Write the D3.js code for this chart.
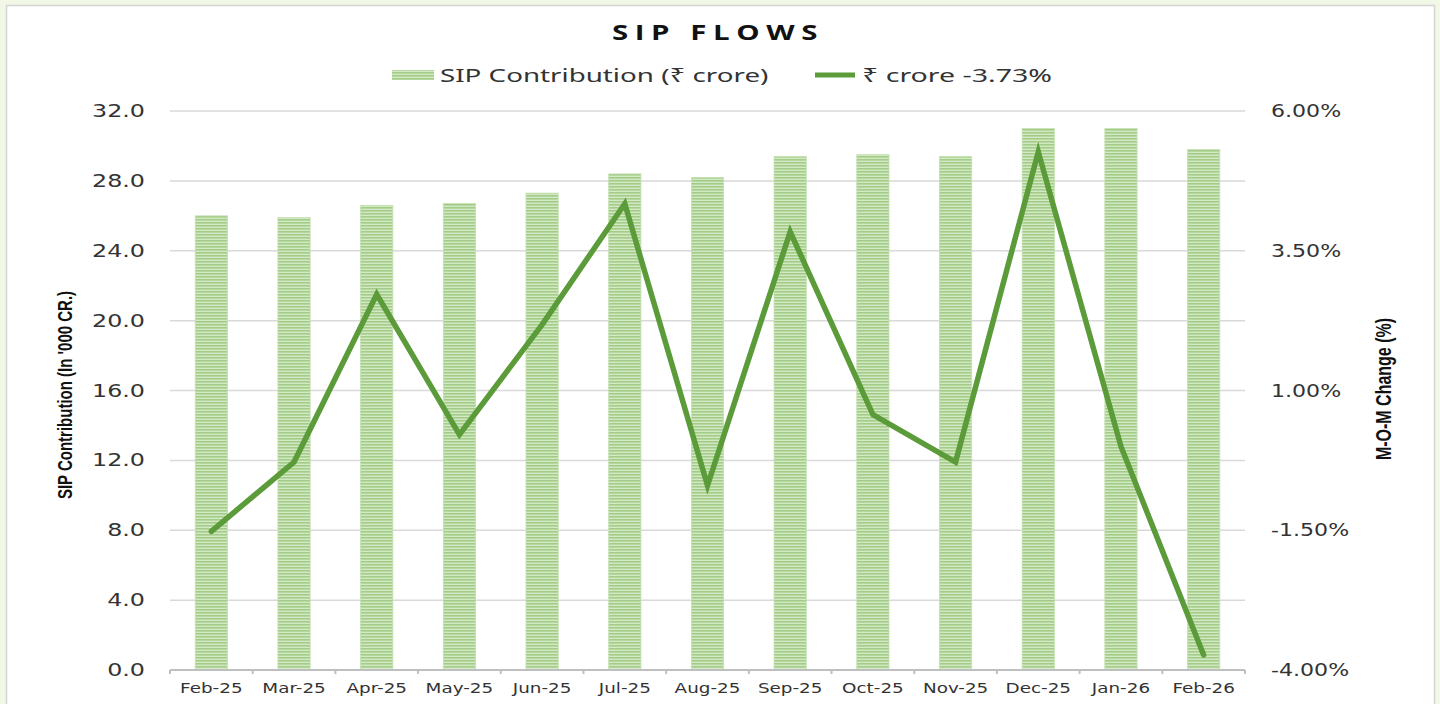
<!DOCTYPE html>
<html>
<head>
<meta charset="utf-8">
<script src="https://cdn.jsdelivr.net/npm/d3@7"></script>
<style>
  html, body { margin: 0; padding: 0; background: #f1f8e6; }
  svg { display: block; }
</style>
</head>
<body>
<div id="viz"></div>
<script>
// chart data
const months = ["Feb-25", "Mar-25", "Apr-25", "May-25", "Jun-25", "Jul-25", "Aug-25",
                "Sep-25", "Oct-25", "Nov-25", "Dec-25", "Jan-26", "Feb-26"]
const sipContribution = [26.0, 25.9, 26.6, 26.7, 27.3, 28.4, 28.2, 29.4, 29.5, 29.4, 31.0, 31.0, 29.8]
const momChange = [-1.52, -0.28, 2.72, 0.21, 2.18, 4.34, -0.70, 3.84, 0.57, -0.28, 5.27, 0.0, -3.73]
const leftTicks = [0, 4, 8, 12, 16, 20, 24, 28, 32]
const rightTicks = [-4, -1.5, 1, 3.5, 6]

const width = 1440, height = 704
const plotLeft = 170, plotRight = 1245, plotTop = 111, plotBottom = 670

let svg = d3.select("#viz").append("svg").attr("width", width).attr("height", height)

// white card with grey border
svg.append("rect")
    .attr("x", 6.5).attr("y", 5.5)
    .attr("width", 1428).attr("height", 720)
    .attr("fill", "#fff").attr("stroke", "#d4d4d4").attr("stroke-width", 1.5)

// stripe pattern for the bars
let defs = svg.append("defs")
let pat = defs.append("pattern")
    .attr("id", "stripes").attr("patternUnits", "userSpaceOnUse")
    .attr("width", 8).attr("height", 3)
pat.append("rect").attr("width", 8).attr("height", 3).attr("fill", "#d3e8c4")
pat.append("rect").attr("width", 8).attr("height", 1.6).attr("fill", "#a3cd87")

let x = d3.scaleBand().domain(months).range([plotLeft, plotRight]).paddingInner(0.61).paddingOuter(0.305)
let yL = d3.scaleLinear().domain([0, 32]).range([plotBottom, plotTop])
let yR = d3.scaleLinear().domain([-4, 6]).range([plotBottom, plotTop])

// the source picture is stretched sideways, so text gets a horizontal scale
const stretch = 1.4

// gridlines
svg.append("g")
    .selectAll("line").data(leftTicks.filter(d => d > 0))
    .join("line")
    .attr("x1", plotLeft).attr("x2", plotRight)
    .attr("y1", d => yL(d)).attr("y2", d => yL(d))
    .attr("stroke", "#d9d9d9").attr("stroke-width", 1.5)

// bars
svg.append("g")
    .selectAll("rect").data(sipContribution)
    .join("rect")
    .attr("x", (d, i) => x(months[i]))
    .attr("y", d => yL(d))
    .attr("width", x.bandwidth())
    .attr("height", d => plotBottom - yL(d))
    .attr("fill", "url(#stripes)")
    .attr("stroke", "#c4e0b0").attr("stroke-width", 0.8)

// x axis line and ticks
let step = x.step()
svg.append("line")
    .attr("x1", plotLeft).attr("x2", plotRight).attr("y1", plotBottom).attr("y2", plotBottom)
    .attr("stroke", "#bfbfbf").attr("stroke-width", 2)
svg.append("g")
    .selectAll("line").data(d3.range(months.length + 1))
    .join("line")
    .attr("x1", i => plotLeft + i * step).attr("x2", i => plotLeft + i * step)
    .attr("y1", plotBottom).attr("y2", plotBottom + 4)
    .attr("stroke", "#bfbfbf").attr("stroke-width", 2)

svg.append("g")
    .selectAll("text").data(months)
    .join("text")
    .attr("transform", d => `translate(${x(d) + x.bandwidth() / 2},693) scale(1.36,1)`)
    .attr("text-anchor", "middle")
    .attr("font-family", "DejaVu Sans, Verdana, sans-serif")
    .attr("font-size", 13.5)
    .attr("fill", "#333")
    .text(d => d)

// left tick labels
svg.append("g")
    .selectAll("text").data(leftTicks)
    .join("text")
    .attr("transform", d => `translate(145,${yL(d) + 6}) scale(${stretch},1)`)
    .attr("text-anchor", "end")
    .attr("font-family", "DejaVu Sans, Verdana, sans-serif")
    .attr("font-size", 17)
    .attr("fill", "#333")
    .text(d => d3.format(".1f")(d))

// right tick labels
svg.append("g")
    .selectAll("text").data(rightTicks)
    .join("text")
    .attr("transform", d => `translate(1271,${yR(d) + 6}) scale(1.3,1)`)
    .attr("text-anchor", "start")
    .attr("font-family", "DejaVu Sans, Verdana, sans-serif")
    .attr("font-size", 17)
    .attr("fill", "#333")
    .text(d => d3.format(".2f")(d).replace("−", "-") + "%")

// line
let line = d3.line()
    .x((d, i) => x(months[i]) + x.bandwidth() / 2)
    .y(d => yR(d))
svg.append("path")
    .datum(momChange)
    .attr("d", line)
    .attr("fill", "none")
    .attr("stroke", "#5b9b3a")
    .attr("stroke-width", 5.5)
    .attr("stroke-linejoin", "miter")
    .attr("stroke-linecap", "round")

// title
svg.append("text")
    .attr("transform", `translate(718,40) scale(${stretch},1)`)
    .attr("text-anchor", "middle")
    .attr("font-family", "Open Sans, sans-serif")
    .attr("font-weight", "bold")
    .attr("font-size", 21)
    .attr("letter-spacing", 4.7)
    .attr("fill", "#111")
    .text("SIP FLOWS")

// legend
let legend = svg.append("g").attr("font-family", "Noto Sans, Open Sans, sans-serif").attr("font-size", 19).attr("fill", "#333")
legend.append("rect").attr("x", 392).attr("y", 70).attr("width", 42).attr("height", 10).attr("fill", "url(#stripes)")
legend.append("text").attr("transform", "translate(440,82) scale(1.46,1)").text("SIP Contribution  (₹ crore)")
legend.append("line").attr("x1", 815).attr("x2", 855).attr("y1", 75).attr("y2", 75)
    .attr("stroke", "#5b9b3a").attr("stroke-width", 5)
legend.append("text").attr("transform", "translate(862,82) scale(1.5,1)").text("₹ crore -3.73%")

// axis titles
svg.append("text")
    .attr("transform", `translate(72,395) scale(${stretch},1) rotate(-90)`)
    .attr("text-anchor", "middle")
    .attr("font-family", "Liberation Sans Narrow, Arial Narrow, sans-serif")
    .attr("font-weight", "bold")
    .attr("font-size", 15)
    .attr("fill", "#111")
    .text("SIP Contribution (In '000 CR.)")

svg.append("text")
    .attr("transform", `translate(1391,389) scale(${stretch},1) rotate(-90)`)
    .attr("text-anchor", "middle")
    .attr("font-family", "Liberation Sans Narrow, Arial Narrow, sans-serif")
    .attr("font-weight", "bold")
    .attr("font-size", 16)
    .attr("fill", "#111")
    .text("M-O-M Change (%)")
</script>
</body>
</html>
